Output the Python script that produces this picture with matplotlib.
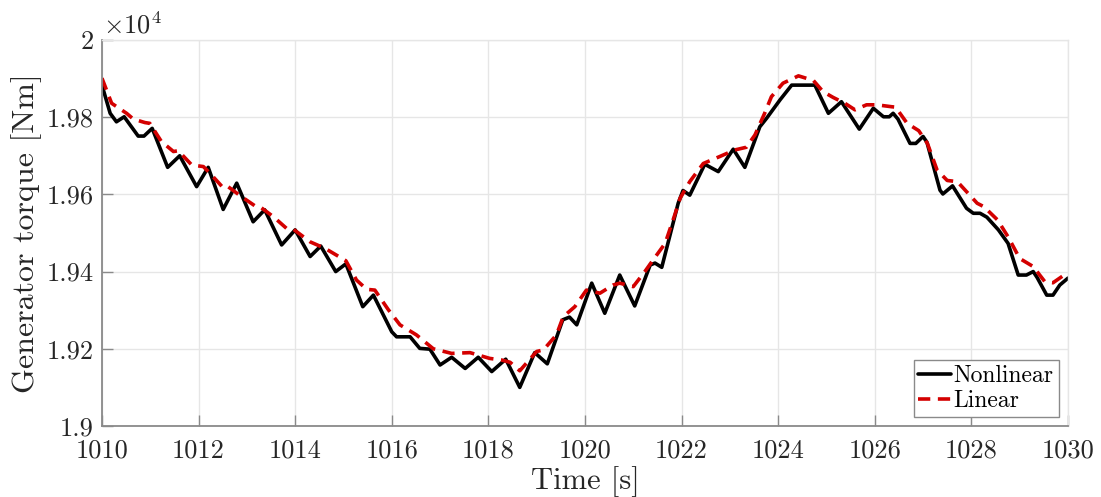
import numpy as np
import matplotlib
matplotlib.use('Agg')
import matplotlib.pyplot as plt
from matplotlib.ticker import FuncFormatter

plt.rcParams['font.family'] = 'cmr10'
plt.rcParams['mathtext.fontset'] = 'cm'
plt.rcParams['axes.formatter.use_mathtext'] = True
plt.rcParams['axes.unicode_minus'] = False

# generator torque, nonlinear model
t_nl = [1010.0, 1010.17, 1010.30, 1010.46, 1010.75, 1010.87, 1011.04, 1011.36, 1011.61,
        1011.96, 1012.20, 1012.51, 1012.79, 1013.13, 1013.37, 1013.72, 1014.0, 1014.31,
        1014.53, 1014.84, 1015.05, 1015.40, 1015.62, 1016.0, 1016.10, 1016.38, 1016.58,
        1016.79, 1017.0, 1017.24, 1017.52, 1017.79, 1018.07, 1018.36, 1018.65, 1018.96,
        1019.22, 1019.54, 1019.68, 1019.83, 1020.14, 1020.41, 1020.72, 1021.03, 1021.35,
        1021.45, 1021.59, 1021.93, 1022.03, 1022.17, 1022.48, 1022.76, 1023.07, 1023.31,
        1023.62, 1023.76, 1024.04, 1024.28, 1024.76, 1025.04, 1025.31, 1025.68, 1025.97,
        1026.18, 1026.30, 1026.38, 1026.48, 1026.73, 1026.85, 1027.0, 1027.08, 1027.35,
        1027.41, 1027.61, 1027.90, 1028.04, 1028.18, 1028.32, 1028.56, 1028.76, 1028.97,
        1029.14, 1029.28, 1029.36, 1029.56, 1029.69, 1029.83, 1030.0]
tq_nl = [19883, 19810, 19788, 19801, 19751, 19751, 19771, 19670, 19700,
         19620, 19670, 19561, 19629, 19529, 19560, 19469, 19508, 19439,
         19466, 19400, 19420, 19309, 19339, 19244, 19231, 19231, 19201,
         19199, 19158, 19178, 19149, 19178, 19141, 19173, 19100, 19190,
         19161, 19275, 19282, 19262, 19370, 19292, 19391, 19311, 19417,
         19422, 19411, 19577, 19610, 19598, 19678, 19659, 19717, 19670,
         19775, 19797, 19845, 19883, 19883, 19810, 19840, 19769, 19823,
         19801, 19801, 19810, 19795, 19732, 19732, 19750, 19735, 19611,
         19601, 19622, 19564, 19551, 19551, 19541, 19508, 19473, 19391,
         19391, 19400, 19385, 19339, 19339, 19365, 19383]

# generator torque, linearised model
t_lin = [1010.0, 1010.2, 1010.51, 1010.65, 1010.89, 1010.99, 1011.23, 1011.48, 1011.58,
         1011.86, 1012.10, 1012.27, 1012.51, 1012.61, 1012.89, 1013.17, 1013.27, 1013.55,
         1013.82, 1013.96, 1014.31, 1014.62, 1014.93, 1015.05, 1015.27, 1015.48, 1015.65,
         1015.93, 1016.17, 1016.51, 1016.86, 1017.24, 1017.62, 1018.03, 1018.27, 1018.45,
         1018.65, 1019.0, 1019.14, 1019.41, 1019.55, 1019.79, 1020.03, 1020.31, 1020.58,
         1020.72, 1021.0, 1021.24, 1021.41, 1021.66, 1021.86, 1021.97, 1022.17, 1022.45,
         1022.79, 1023.10, 1023.34, 1023.52, 1023.72, 1023.86, 1024.10, 1024.42, 1024.73,
         1024.93, 1025.14, 1025.38, 1025.59, 1025.83, 1026.04, 1026.35, 1026.43, 1026.67,
         1026.91, 1027.09, 1027.29, 1027.50, 1027.71, 1028.12, 1028.26, 1028.54, 1028.76,
         1029.0, 1029.28, 1029.52, 1029.69, 1030.0]
tq_lin = [19901, 19836, 19810, 19795, 19786, 19784, 19737, 19711, 19713,
          19676, 19672, 19650, 19617, 19620, 19594, 19570, 19568, 19542,
          19512, 19510, 19477, 19460, 19437, 19428, 19378, 19354, 19352,
          19301, 19262, 19236, 19200, 19188, 19190, 19175, 19171, 19165,
          19143, 19193, 19197, 19236, 19283, 19309, 19352, 19344, 19365,
          19370, 19361, 19400, 19430, 19473, 19547, 19590, 19633, 19680,
          19698, 19715, 19722, 19754, 19810, 19853, 19888, 19907, 19895,
          19866, 19851, 19836, 19819, 19832, 19832, 19827, 19826, 19784,
          19765, 19732, 19663, 19636, 19633, 19577, 19568, 19534, 19490,
          19434, 19413, 19374, 19371, 19398]

x_ticks = [1010, 1012, 1014, 1016, 1018, 1020, 1022, 1024, 1026, 1028, 1030]
y_ticks = [19000, 19200, 19400, 19600, 19800, 20000]

fig = plt.figure(figsize=(11.01, 4.97), dpi=100)
ax = fig.add_axes([0.0926, 0.1429, 0.8774, 0.7767])

ax.plot(t_nl, tq_nl, color='black', lw=2.6, label='Nonlinear',
        solid_joinstyle='round', solid_capstyle='round')
ax.plot(t_lin, tq_lin, color='#d40000', lw=2.6, ls=(0, (3.4, 2.1)), label='Linear')

ax.set_xlim(1010, 1030)
ax.set_ylim(19000, 20000)
ax.set_xticks(x_ticks)
ax.set_yticks(y_ticks)
ax.yaxis.set_major_formatter(FuncFormatter(lambda v, p: f'{v / 1e4:g}'))
ax.xaxis.set_major_formatter(FuncFormatter(lambda v, p: f'{v:g}'))

ax.grid(True, color='#e6e6e6', lw=1.0)
ax.set_axisbelow(True)
for s in ['top', 'right']:
    ax.spines[s].set_color('#e6e6e6')
    ax.spines[s].set_linewidth(1.0)
for s in ['left', 'bottom']:
    ax.spines[s].set_color('#8a8a8a')
    ax.spines[s].set_linewidth(1.3)
ax.tick_params(direction='in', length=8, width=1.0, color='#8a8a8a',
               labelsize=19, labelcolor='#262626')
ax.tick_params(axis='y', pad=6)
ax.tick_params(axis='x', pad=9)

ax.set_xlabel('Time [s]', fontsize=22, color='#262626', labelpad=3)
ax.set_ylabel('Generator torque [Nm]', fontsize=23, color='#262626', labelpad=3)
ax.text(0.001, 1.005, r'$\times 10^{4}$', transform=ax.transAxes, fontsize=19,
        color='#262626', ha='left', va='bottom')

leg = ax.legend(loc='lower right', fontsize=17, handlelength=1.4, handletextpad=0.1,
                borderpad=0.2, labelspacing=0.1, borderaxespad=0.4, fancybox=False,
                framealpha=1.0, edgecolor='#8a8a8a')
leg.get_frame().set_linewidth(1.0)

fig.savefig('out.png', dpi=100)
